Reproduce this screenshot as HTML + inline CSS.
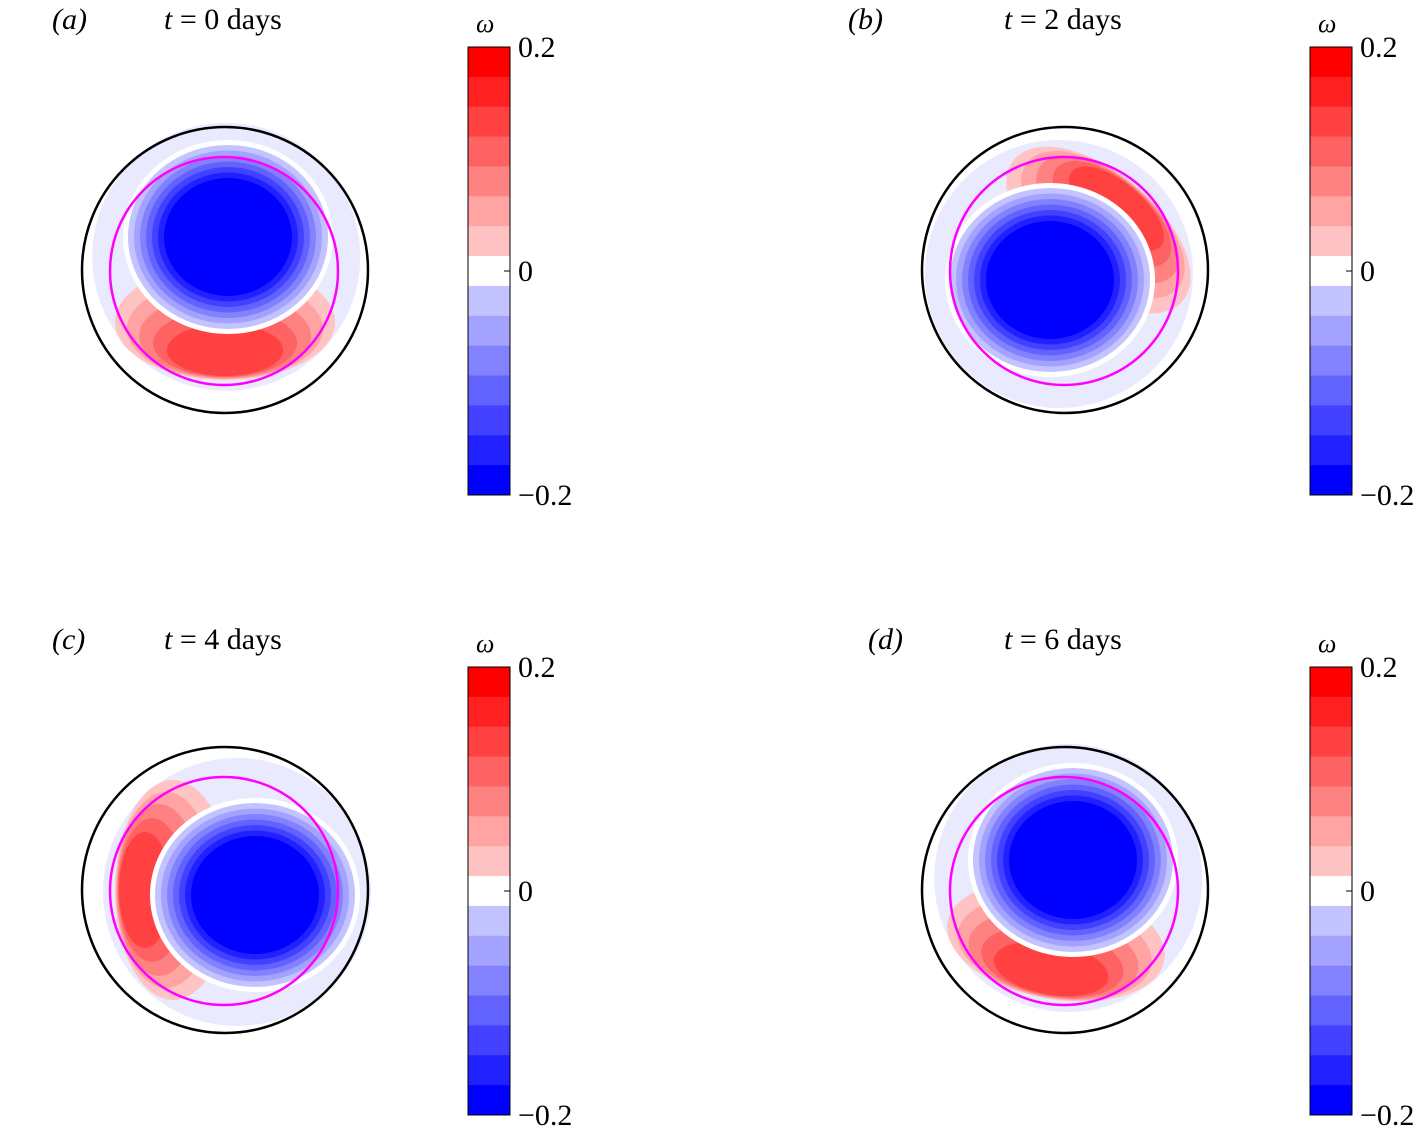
<!DOCTYPE html>
<html><head><meta charset="utf-8">
<style>
body{margin:0;background:#fff;}
svg{display:block;font-family:"Liberation Serif",serif;}
</style></head>
<body>
<svg id="fig" width="1421" height="1135" viewBox="0 0 1421 1135"></svg>
<script>
// colorbar levels (top to bottom)
const levelValues=[0.2,0.171,0.143,0.114,0.086,0.057,0.029,0,-0.029,-0.057,-0.086,-0.114,-0.143,-0.171,-0.2];
const tickValues=[0.2,0,-0.2];
const tickLabels=["0.2","0","\u22120.2"];
const panelLabels=["(a)","(b)","(c)","(d)"];
const panelTimes=[0,2,4,6];
// vortex core offset (dx,dy) and crescent direction (deg) per panel
const coreDx=[3,-15,30,8];
const coreDy=[-33,10,5,-30];
const crescentAngle=[90,-50,180,100];
const originsX=[225,1065,225,1065];
const originsY=[270,270,890,890];
const cbarX=[468,1310,468,1310];
const labelX=[52,848,52,868];

const NS="http://www.w3.org/2000/svg";
const svg=document.getElementById('fig');
function el(tag,attrs,parent){const e=document.createElementNS(NS,tag);for(const k in attrs)e.setAttribute(k,attrs[k]);(parent||svg).appendChild(e);return e;}
function color(v){
  const t=Math.min(1,Math.abs(v)/0.2);
  if(Math.abs(v)<1e-6)return '#ffffff';
  const g=Math.round(228*(1-t));
  return v>0?`rgb(255,${g},${g})`:`rgb(${g},${g},255)`;
}
for(let p=0;p<4;p++){
  const cx=originsX[p],cy=originsY[p];
  const g=el('g',{transform:`translate(${cx},${cy})`});
  
  
  const a=crescentAngle[p]*Math.PI/180;
  const bx=coreDx[p],by=coreDy[p];
  const halo=el('ellipse',{cx:bx*0.4,cy:by*0.4,rx:134,ry:134,fill:'#eaeaff'},g);
  
  
  const rxs=[110,98,86,72,58];
  for(let i=0;i<5;i++){
    const v=levelValues[6-i];
    const d=52+i*7;
    const e=el('ellipse',{cx:Math.cos(a)*d,cy:Math.sin(a)*d,rx:rxs[i],ry:58-i*8,fill:color(v),transform:`rotate(${crescentAngle[p]-90} ${Math.cos(a)*d} ${Math.sin(a)*d})`},g);
    
    
  }
  const w=el('ellipse',{cx:bx,cy:by,rx:105,ry:97,fill:'#fff'},g);
  
  
  for(let i=0;i<7;i++){
    const v=levelValues[8+i];
    const e=el('ellipse',{cx:bx,cy:by,rx:100-i*6,ry:92-i*5.5,fill:color(v)},g);
    
    
  }
  const mc=el('circle',{cx:-1,cy:1,r:114,fill:'none',stroke:'#ff00ff','stroke-width':2.5},g);
  
  
  const bc=el('circle',{cx:0,cy:0,r:143,fill:'none',stroke:'#000','stroke-width':2.5},g);
  
  
  const lbl=el('text',{x:labelX[p],y:cy-241,'font-size':30,'font-style':'italic'});
  lbl.textContent=panelLabels[p];
  
  
  const tt=el('text',{x:cx-61,y:cy-241,'font-size':30});
  tt.innerHTML=`<tspan font-style="italic">t</tspan> = ${panelTimes[p]} days`;
  
  
  const x0=cbarX[p],y0=cy-223,h=448,bh=h/levelValues.length;
  const cb=el('g',{});
  
  
  levelValues.forEach((v,i)=>{
    const r=el('rect',{x:x0,y:y0+i*bh,width:42,height:bh+0.5,fill:color(v)},cb);
    
    
  });
  el('rect',{x:x0,y:y0,width:42,height:h,fill:'none',stroke:'#000','stroke-width':1},cb);
  tickValues.forEach((v,i)=>{
    const y=y0+(0.2-v)/0.4*h;
    el('line',{x1:x0+42,x2:x0+36,y1:y,y2:y,stroke:'#000'},cb);
    const t=el('text',{x:x0+50,y:y+10,'font-size':30},cb);
    t.textContent=tickLabels[i];
    
    
  });
  const om=el('text',{x:x0+8,y:y0-15,'font-size':26,'font-style':'italic'},cb);
  om.textContent='ω';
  
  
}
</script>
</body></html>
